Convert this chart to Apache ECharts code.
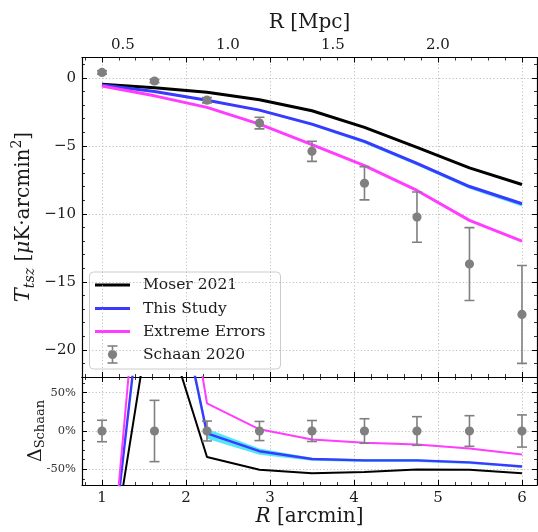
<!DOCTYPE html>
<html><head><meta charset="utf-8">
<script src="https://cdn.jsdelivr.net/npm/echarts@6/dist/echarts.min.js"></script>
<style>html,body{margin:0;padding:0;background:#fff}#c{width:538px;height:532px}</style>
</head><body><div id="c"></div>
<script>
// ---------- data ----------
const R = [1, 1.625, 2.25, 2.875, 3.5, 4.125, 4.75, 5.375, 6];           // arcmin
const seriesNames = ['Moser 2021', 'This Study', 'Extreme Errors', 'Schaan 2020'];
const schaan    = [0.40, -0.23, -1.64, -3.32, -5.40, -7.75, -10.24, -13.69, -17.40];
const schaanErr = [0.12, 0.12, 0.20, 0.43, 0.74, 1.22, 1.85, 2.68, 3.60];
const moser     = [-0.46, -0.72, -1.05, -1.61, -2.42, -3.64, -5.11, -6.62, -7.84];
const thisStudy = [-0.52, -1.00, -1.64, -2.37, -3.40, -4.67, -6.28, -7.99, -9.26];
const bandLow   = [-0.56, -1.06, -1.72, -2.46, -3.52, -4.82, -6.44, -8.16, -9.46];
const bandHigh  = [-0.49, -0.97, -1.60, -2.32, -3.34, -4.60, -6.18, -7.88, -9.14];
const extreme   = [-0.60, -1.32, -2.17, -3.40, -4.91, -6.45, -8.28, -10.48, -12.00];
// lower panel (percent)
const dSchaanErr  = [14, 40, 13, 12.5, 13.7, 16, 18.7, 20, 21];
const dMoser      = [-245, 185, -34, -50.7, -55, -53.4, -50.2, -50.7, -55];
const dThis       = [-276, 323, -3, -26.4, -36.6, -38.3, -38.3, -41, -46.3];
const dBandLow    = [-282, 316, -10, -31, -39, -40.5, -40.5, -43, -48];
const dBandHigh   = [-270, 330, 3, -23, -35, -37, -37, -40, -45.5];
const dExtreme    = [-315, 450, 36.2, 2.2, -11, -15.4, -17.6, -22.9, -30.8];
const mpcPerArcmin = 0.4;
const xRange = [0.762, 6.179];
const yMainRange = [-22.0, 1.5];
const yLowRange = [-70.5, 70.5];

// ---------- styles ----------
const FONT = 'DejaVu Serif';
const TXT = '#1a1a1a';
const GRAY = '#808080';
const BLACK = '#000000', BLUE = '#3a3aff', MAG = '#ff3cff', CYAN = '#3de6f5';

const pairs = (ys) => R.map((r, i) => [r, ys[i]]);

function axisBase(extra) {
  return Object.assign({
    type: 'value',
    axisLine: { show: true, onZero: false, lineStyle: { color: '#000', width: 1.2 } },
    axisTick: { show: true, inside: true, length: 5, lineStyle: { color: '#000', width: 1 } },
    minorTick: { show: true, splitNumber: 5, length: 3, lineStyle: { color: '#000', width: 0.8 } },
    axisLabel: { show: false },
    splitLine: { show: false },
    minorSplitLine: { show: false }
  }, extra);
}
function labelStyle(extra) {
  return Object.assign({ show: true, showMinLabel: false, showMaxLabel: false, margin: 6,
    color: TXT, fontFamily: FONT, fontSize: 15 }, extra);
}
const dotted = { show: true, lineStyle: { color: '#b8b8b8', type: [1.2, 2.2], width: 0.9 } };

function errRender(params, api) {
  const x = api.value(0), y = api.value(1), e = api.value(2);
  const c = api.coord([x, y]);
  const lo = api.coord([x, y - e]);
  const hi = api.coord([x, y + e]);
  const cap = 5;
  const st = { stroke: GRAY, lineWidth: 1.6 };
  return {
    type: 'group',
    children: [
      { type: 'line', shape: { x1: c[0], y1: lo[1], x2: c[0], y2: hi[1] }, style: st },
      { type: 'line', shape: { x1: c[0] - cap, y1: lo[1], x2: c[0] + cap, y2: lo[1] }, style: st },
      { type: 'line', shape: { x1: c[0] - cap, y1: hi[1], x2: c[0] + cap, y2: hi[1] }, style: st },
      { type: 'circle', shape: { cx: c[0], cy: c[1], r: 4.6 }, style: { fill: GRAY } }
    ]
  };
}

function line(name, ys, color, width, xi, yi, z) {
  return {
    name, type: 'line', data: pairs(ys), xAxisIndex: xi, yAxisIndex: yi,
    showSymbol: false, symbol: 'none', clip: true, z: z || 3,
    lineStyle: { color, width }, itemStyle: { color }, silent: true, animation: false
  };
}
function band(lowArr, highArr, xi, yi) {
  return {
    type: 'custom', xAxisIndex: xi, yAxisIndex: yi, clip: true, silent: true, animation: false, z: 2,
    data: R.map((r, i) => [r, lowArr[i], highArr[i]]),
    renderItem: function (params, api) {
      if (params.dataIndex !== 0) return null;
      const pts = [];
      for (let i = 0; i < R.length; i++) pts.push(api.coord([R[i], highArr[i]]));
      for (let i = R.length - 1; i >= 0; i--) pts.push(api.coord([R[i], lowArr[i]]));
      return { type: 'polygon', shape: { points: pts }, style: { fill: CYAN, opacity: 0.9 } };
    }
  };
}

const gridMain = { left: 82, top: 57.5, width: 455, height: 319.5 };
const gridLow = { left: 82, top: 377, width: 455, height: 108 };

const option = {
  backgroundColor: '#ffffff',
  animation: false,
  grid: [
    Object.assign({ containLabel: false }, gridMain),
    Object.assign({ containLabel: false }, gridLow),
    Object.assign({ containLabel: false }, gridMain)
  ],
  xAxis: [
    axisBase({ gridIndex: 0, position: 'bottom', min: xRange[0], max: xRange[1], splitNumber: 5, splitLine: dotted }),
    axisBase({ gridIndex: 0, position: 'top', min: xRange[0], max: xRange[1], splitNumber: 5 }),
    axisBase({ gridIndex: 1, position: 'bottom', min: xRange[0], max: xRange[1], splitNumber: 5, splitLine: dotted,
      axisLabel: labelStyle({ formatter: v => String(v) }),
      name: '{i|R} [arcmin]', nameLocation: 'middle', nameGap: 20,
      nameTextStyle: { fontFamily: FONT, fontSize: 20, color: TXT,
        rich: { i: { fontFamily: FONT, fontSize: 20, fontStyle: 'italic', color: TXT } } } }),
    axisBase({ gridIndex: 1, position: 'top', min: xRange[0], max: xRange[1], splitNumber: 5 }),
    {
      type: 'value', gridIndex: 2, position: 'top',
      min: xRange[0] * mpcPerArcmin, max: xRange[1] * mpcPerArcmin, splitNumber: 5,
      axisLine: { show: false }, axisTick: { show: false }, splitLine: { show: false },
      axisLabel: labelStyle({ margin: 5, formatter: v => v.toFixed(1) }),
      name: 'R [Mpc]', nameLocation: 'middle', nameGap: 24,
      nameTextStyle: { fontFamily: FONT, fontSize: 20, color: TXT }
    }
  ],
  yAxis: [
    axisBase({ gridIndex: 0, position: 'left', min: yMainRange[0], max: yMainRange[1], splitNumber: 5, splitLine: dotted,
      axisLabel: labelStyle({ formatter: v => (v < 0 ? '\u2212' + Math.abs(v) : String(v)) }) }),
    axisBase({ gridIndex: 0, position: 'right', min: yMainRange[0], max: yMainRange[1], splitNumber: 5 }),
    axisBase({ gridIndex: 1, position: 'left', min: yLowRange[0], max: yLowRange[1], splitNumber: 3, splitLine: dotted,
      minorTick: { show: true, splitNumber: 4, length: 3, lineStyle: { color: '#000', width: 0.8 } },
      axisLabel: labelStyle({ color: '#333', fontSize: 11.5, formatter: v => v + '%' }) }),
    axisBase({ gridIndex: 1, position: 'right', min: yLowRange[0], max: yLowRange[1], splitNumber: 3,
      minorTick: { show: true, splitNumber: 4, length: 3, lineStyle: { color: '#000', width: 0.8 } } }),
    { type: 'value', gridIndex: 2, show: false, min: 0, max: 1 }
  ],
  series: [
    // main panel
    band(bandLow, bandHigh, 0, 0),
    line(seriesNames[0], moser, BLACK, 3, 0, 0, 3),
    line(seriesNames[1], thisStudy, BLUE, 3, 0, 0, 3),
    line(seriesNames[2], extreme, MAG, 3, 0, 0, 3),
    { name: seriesNames[3], type: 'custom', xAxisIndex: 0, yAxisIndex: 0, renderItem: errRender,
      data: R.map((r, i) => [r, schaan[i], schaanErr[i]]), clip: true, z: 5, silent: true, animation: false },
    // lower panel
    band(dBandLow, dBandHigh, 2, 2),
    line(seriesNames[0], dMoser, BLACK, 2, 2, 2, 3),
    line(seriesNames[1], dThis, BLUE, 2.4, 2, 2, 3),
    line(seriesNames[2], dExtreme, MAG, 2, 2, 2, 3),
    { name: seriesNames[3], type: 'custom', xAxisIndex: 2, yAxisIndex: 2, renderItem: errRender,
      data: R.map((r, i) => [r, 0, dSchaanErr[i]]), clip: true, z: 5, silent: true, animation: false }
  ],
  graphic: [
    // y-axis titles
    { type: 'text', x: 24, y: 217, rotation: Math.PI / 2, z: 10,
      style: { text: '{t|T}{s|tsz} [{m|\u03BC}K\u00B7arcmin{p|2}]', align: 'center', verticalAlign: 'middle',
        fill: TXT, fontFamily: FONT, fontSize: 20,
        rich: {
          t: { fontFamily: FONT, fontSize: 21, fontStyle: 'italic', fill: TXT, lineHeight: 30, verticalAlign: 'middle' },
          s: { fontFamily: FONT, fontSize: 14, fontStyle: 'italic', fill: TXT, lineHeight: 30, verticalAlign: 'bottom', padding: [0, 0, 2, 0] },
          m: { fontFamily: FONT, fontSize: 20, fontStyle: 'italic', fill: TXT, lineHeight: 30, verticalAlign: 'middle' },
          p: { fontFamily: FONT, fontSize: 14, fill: TXT, lineHeight: 30, verticalAlign: 'top', padding: [1, 0, 0, 0] }
        } } },
    { type: 'text', x: 36, y: 431, rotation: Math.PI / 2, z: 10,
      style: { text: '{d|\u0394}{s|Schaan}', align: 'center', verticalAlign: 'middle', fill: TXT,
        fontFamily: FONT, fontSize: 18,
        rich: {
          d: { fontFamily: FONT, fontSize: 19, fill: TXT, lineHeight: 26, verticalAlign: 'middle' },
          s: { fontFamily: FONT, fontSize: 13, fill: TXT, lineHeight: 26, verticalAlign: 'bottom', padding: [0, 0, 2, 0] }
        } } },
    // legend
    { type: 'group', z: 20, children: [
      { type: 'rect', shape: { x: 89.5, y: 272, width: 191, height: 97, r: 4 },
        style: { fill: 'rgba(255,255,255,0.85)', stroke: '#cccccc', lineWidth: 1 } },
      { type: 'line', shape: { x1: 95, y1: 285, x2: 130, y2: 285 }, style: { stroke: BLACK, lineWidth: 3 } },
      { type: 'line', shape: { x1: 95, y1: 308.5, x2: 130, y2: 308.5 }, style: { stroke: BLUE, lineWidth: 3 } },
      { type: 'line', shape: { x1: 95, y1: 331.5, x2: 130, y2: 331.5 }, style: { stroke: MAG, lineWidth: 3 } },
      { type: 'line', shape: { x1: 112.5, y1: 346, x2: 112.5, y2: 363 }, style: { stroke: GRAY, lineWidth: 1.6 } },
      { type: 'line', shape: { x1: 107.5, y1: 346, x2: 117.5, y2: 346 }, style: { stroke: GRAY, lineWidth: 1.6 } },
      { type: 'line', shape: { x1: 107.5, y1: 363, x2: 117.5, y2: 363 }, style: { stroke: GRAY, lineWidth: 1.6 } },
      { type: 'circle', shape: { cx: 112.5, cy: 354.5, r: 4.6 }, style: { fill: GRAY } },
      { type: 'text', x: 143, y: 285, style: { text: seriesNames[0], fontFamily: FONT, fontSize: 15.5, fill: TXT, verticalAlign: 'middle' } },
      { type: 'text', x: 143, y: 308.5, style: { text: seriesNames[1], fontFamily: FONT, fontSize: 15.5, fill: TXT, verticalAlign: 'middle' } },
      { type: 'text', x: 143, y: 331.5, style: { text: seriesNames[2], fontFamily: FONT, fontSize: 15.5, fill: TXT, verticalAlign: 'middle' } },
      { type: 'text', x: 143, y: 354.5, style: { text: seriesNames[3], fontFamily: FONT, fontSize: 15.5, fill: TXT, verticalAlign: 'middle' } }
    ] }
  ]
};

const chart = echarts.init(document.getElementById('c'), null, { renderer: 'canvas' });
chart.setOption(option);
</script>
</body></html>
